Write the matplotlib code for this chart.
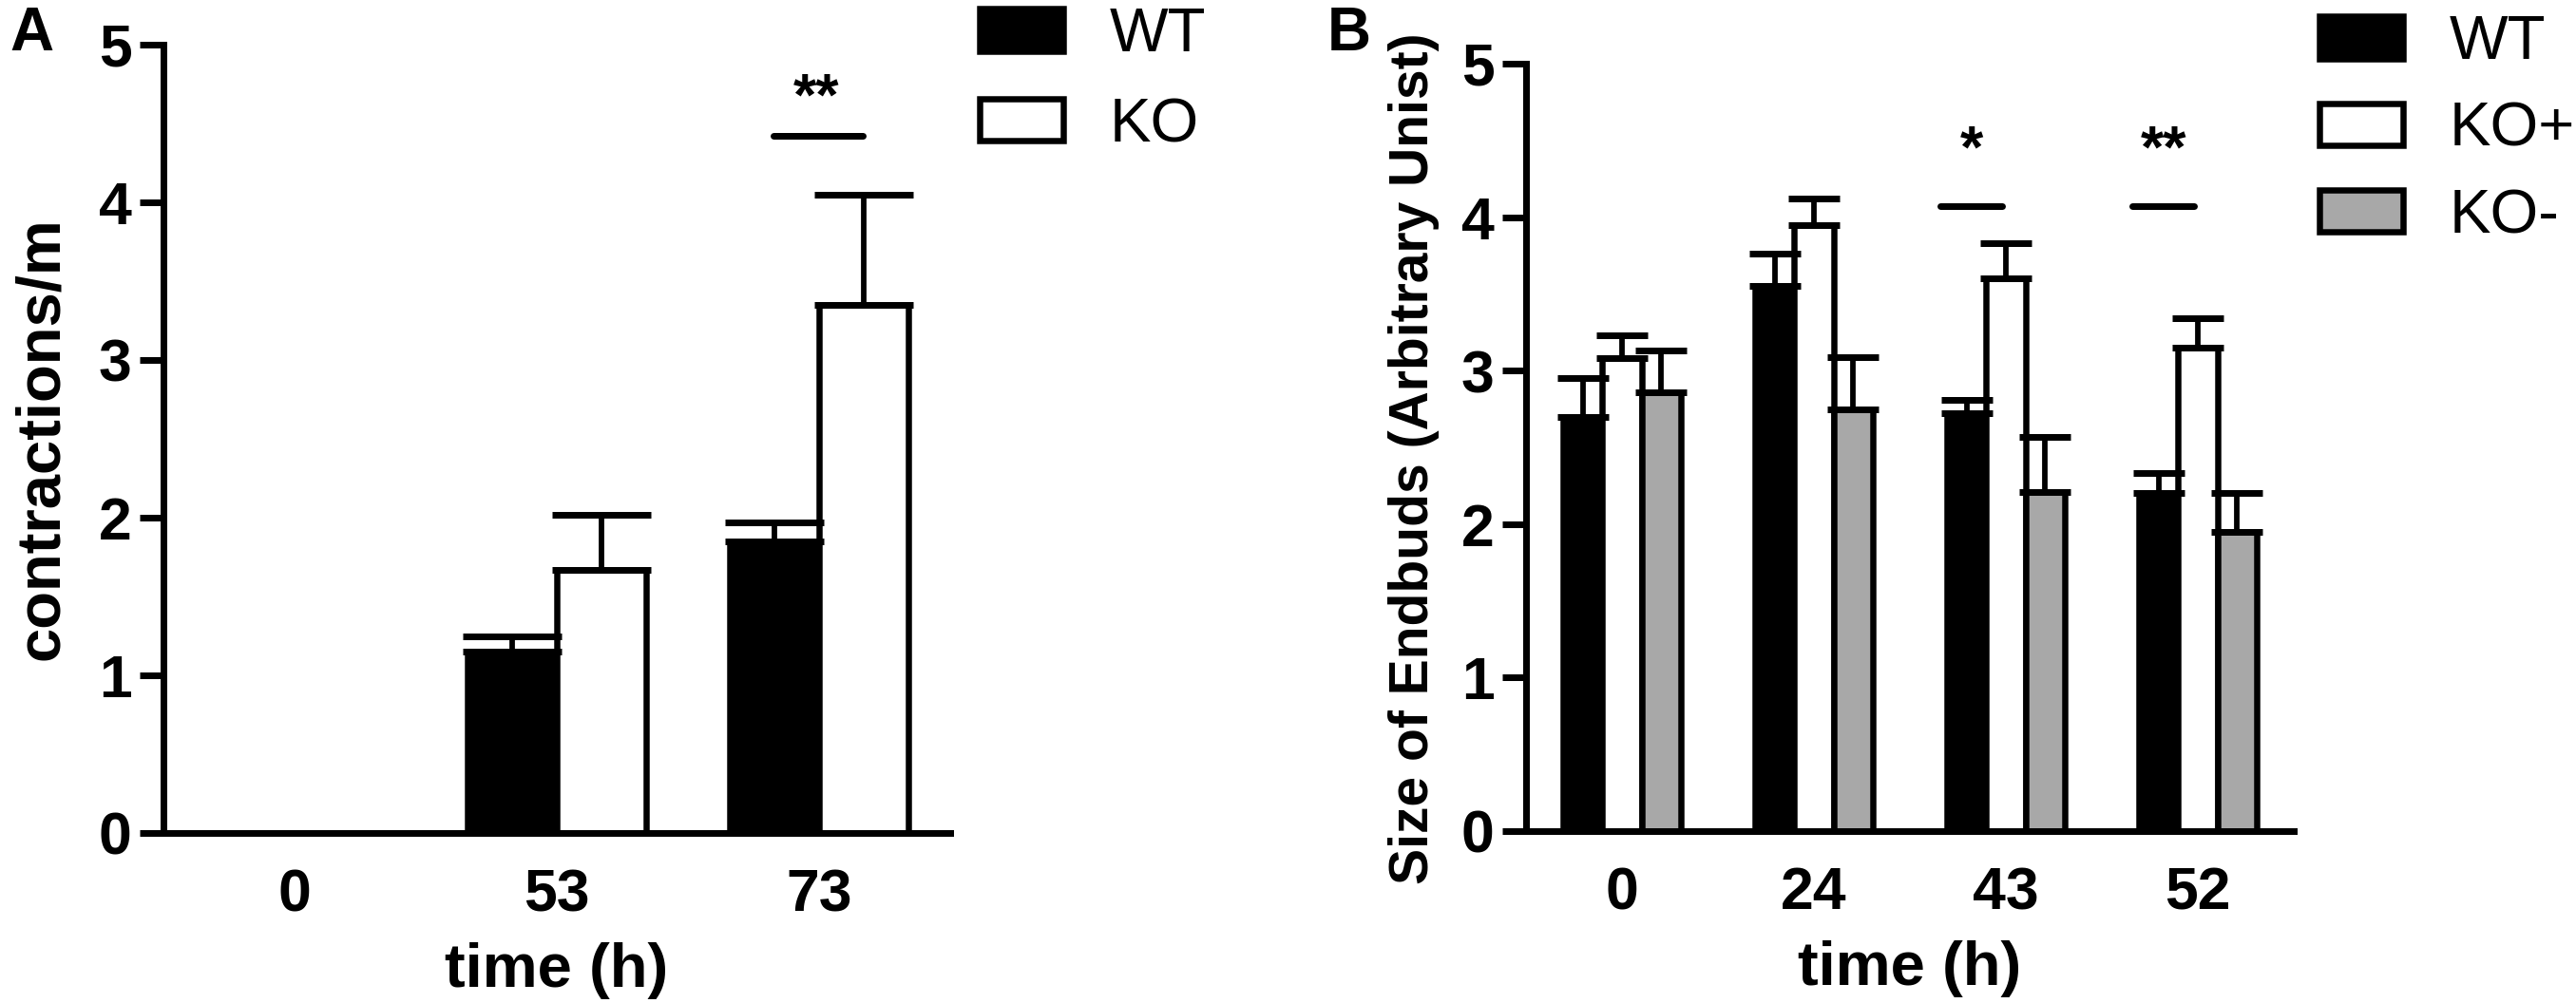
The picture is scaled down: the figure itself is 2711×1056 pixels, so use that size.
import numpy as np
import matplotlib
matplotlib.use('Agg')
import matplotlib.pyplot as plt

plt.rcParams['font.family'] = ['Liberation Sans', 'DejaVu Sans']

# ---------------- data ----------------
# Panel A
times_a = ['0', '53', '73']
wt_a = [0.0, 1.15, 1.85]
wt_a_err = [0.0, 0.10, 0.12]
ko_a = [0.0, 1.67, 3.35]
ko_a_err = [0.0, 0.35, 0.70]
labels_a = ['WT', 'KO']
ylabel_a = 'contractions/m'

# Panel B
times_b = ['0', '24', '43', '52']
wt_b = [2.70, 3.55, 2.72, 2.20]
wt_b_err = [0.25, 0.21, 0.09, 0.13]
kop_b = [3.08, 3.95, 3.60, 3.15]
kop_b_err = [0.15, 0.17, 0.23, 0.19]
kom_b = [2.86, 2.75, 2.21, 1.95]
kom_b_err = [0.27, 0.34, 0.36, 0.25]
labels_b = ['WT', 'KO+', 'KO-']
ylabel_b = 'Size of Endbuds (Arbitrary Unist)'

# significance annotations (group index, text, line height)
sig_a_groups = [2]
sig_a_text = ['**']
sig_a_y = [4.42]
sig_b_groups = [2, 3]
sig_b_text = ['*', '**']
sig_b_y = [4.07, 4.07]

xlabel = 'time (h)'
yticks = [0, 1, 2, 3, 4, 5]

# ---------------- figure ----------------
W, H = 2711, 1056
DPI = 100
fig = plt.figure(figsize=(W / DPI, H / DPI), dpi=DPI)
PX = 72.0 / DPI  # points per pixel

def ax_rect(l, r, t, b):
    return [l / W, 1 - b / H, (r - l) / W, (b - t) / H]

ax_a = fig.add_axes(ax_rect(172, 1000, 47, 877))
ax_b = fig.add_axes(ax_rect(1606, 2414, 67, 875))

LW = 7 * PX
EDGE = 6.5 * PX
TICKFS = 45

def style_axes(ax, cats):
    for s in ['top', 'right']:
        ax.spines[s].set_visible(False)
    for s in ['left', 'bottom']:
        ax.spines[s].set_linewidth(LW)
    ax.set_xlim(-0.5, len(cats) - 0.5)
    ax.set_ylim(0, 5)
    ax.set_yticks(yticks)
    ax.set_yticklabels([str(t) for t in yticks], fontsize=TICKFS, fontweight='bold')
    ax.set_xticks(np.arange(len(cats)))
    ax.set_xticklabels(cats, fontsize=TICKFS, fontweight='bold')
    ax.tick_params(axis='y', direction='out', length=25 * PX, width=LW, pad=6)
    ax.tick_params(axis='x', length=0, pad=26)

def draw_series(ax, x, vals, errs, width, face, capsize):
    vals = np.asarray(vals)
    errs = np.asarray(errs)
    bars = ax.bar(x, vals, width=width, color=face, edgecolor='black',
                  linewidth=EDGE, zorder=2)
    for p in bars:
        p.set_joinstyle('round')
    m = vals > 0
    if m.any():
        ax.errorbar(x[m], vals[m], yerr=[np.zeros(m.sum()), errs[m]], fmt='none',
                    ecolor='black', elinewidth=5.8 * PX, capsize=capsize,
                    capthick=7 * PX, zorder=3)
    return bars

# ---- Panel A ----
xa = np.arange(len(times_a))
wa = 0.34
b1 = draw_series(ax_a, xa - wa / 2, wt_a, wt_a_err, wa, 'black', 52 * PX)
b2 = draw_series(ax_a, xa + wa / 2, ko_a, ko_a_err, wa, 'white', 52 * PX)
style_axes(ax_a, times_a)
for g, t, y in zip(sig_a_groups, sig_a_text, sig_a_y):
    ax_a.plot([g - 0.175, g + 0.165], [y, y], color='black', lw=LW,
              solid_capstyle='round', zorder=3)
    ax_a.text(g - 0.01, y + 0.14, t, ha='center', va='baseline',
              fontsize=45, fontweight='bold')

ax_a.set_ylabel(ylabel_a, fontsize=47, fontweight='bold')
ax_a.yaxis.set_label_coords((74 - 172) / 828, 0.5)
ax_a.set_xlabel(xlabel, fontsize=47, fontweight='bold')
ax_a.xaxis.set_label_coords(0.5, (877 - 992) / 830)

ax_a.legend([b1, b2], labels_a, loc='upper left',
            bbox_to_anchor=(1031 / W, 1 - 7.5 / H), bbox_transform=fig.transFigure,
            frameon=False, fontsize=47, handlelength=1.35, handleheight=0.67,
            handletextpad=0.74, labelspacing=0.53, borderpad=0, borderaxespad=0)

# ---- Panel B ----
xb = np.arange(len(times_b))
wb = 0.205
c1 = draw_series(ax_b, xb - wb, wt_b, wt_b_err, wb, 'black', 27 * PX)
c2 = draw_series(ax_b, xb, kop_b, kop_b_err, wb, 'white', 27 * PX)
c3 = draw_series(ax_b, xb + wb, kom_b, kom_b_err, wb, '#a8a8a8', 27 * PX)
style_axes(ax_b, times_b)
for g, t, y in zip(sig_b_groups, sig_b_text, sig_b_y):
    ax_b.plot([g - 0.34, g - 0.02], [y, y], color='black', lw=LW,
              solid_capstyle='round', zorder=3)
    ax_b.text(g - 0.18, y + 0.26, t, ha='center', va='baseline',
              fontsize=45, fontweight='bold')

ax_b.set_ylabel(ylabel_b, fontsize=41, fontweight='bold')
ax_b.yaxis.set_label_coords((1515 - 1606) / 808, (875 - 483) / 808)
ax_b.set_xlabel(xlabel, fontsize=47, fontweight='bold')
ax_b.xaxis.set_label_coords(0.5, (875 - 990) / 808)

ax_b.legend([c1, c2, c3], labels_b, loc='upper left',
            bbox_to_anchor=(2441 / W, 1 - 15.5 / H), bbox_transform=fig.transFigure,
            frameon=False, fontsize=47, handlelength=1.35, handleheight=0.67,
            handletextpad=0.74, labelspacing=0.48, borderpad=0, borderaxespad=0)

# panel letters
fig.text(10 / W, 1 - 53 / H, 'A', fontsize=46, fontweight='bold', ha='left', va='baseline')
fig.text(1397 / W, 1 - 53 / H, 'B', fontsize=46, fontweight='bold', ha='left', va='baseline')

fig.savefig('out.png', dpi=DPI, facecolor='white')
